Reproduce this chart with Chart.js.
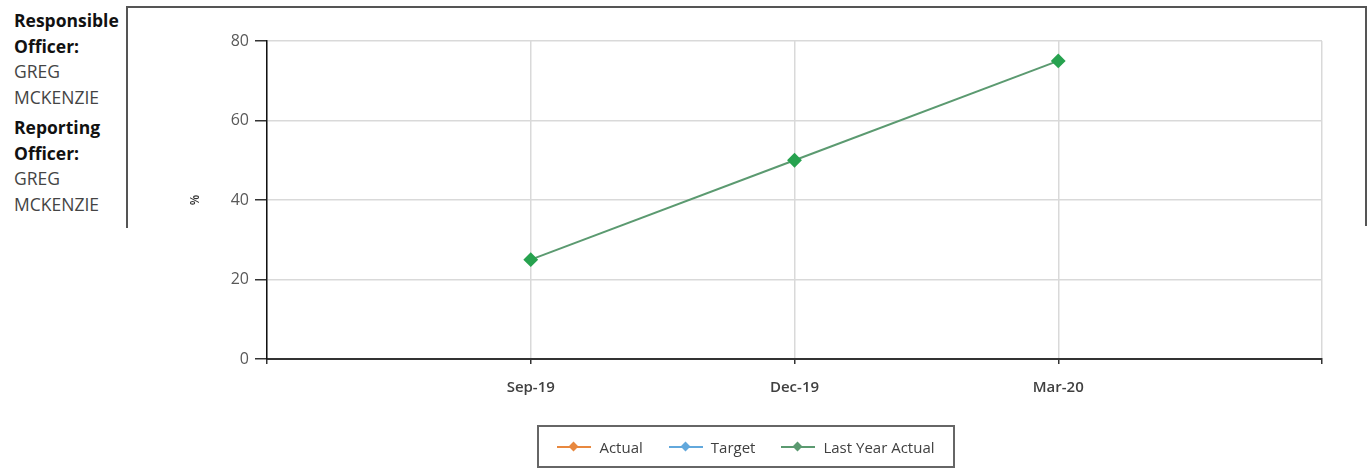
<!DOCTYPE html>
<html>
<head>
<meta charset="utf-8">
<script src="https://cdn.jsdelivr.net/npm/chart.js@4"></script>
<style>
    html, body { margin: 0; padding: 0; background: #fff; }
    body { width: 1367px; height: 472px; position: relative; overflow: hidden; font-family: "Open Sans", sans-serif; }
    #chart-wrap { position: absolute; left: 0; top: 0; width: 1367px; height: 472px; }
    .officers { position: absolute; left: 14px; top: 8px; font-size: 17.5px; line-height: 25.5px; color: #444; }
    .officers b { color: #111; }
    .officers .block + .block { margin-top: 5px; }
    .cell-line { position: absolute; background: #555; }
    .legend { position: absolute; left: 537px; top: 425px; width: 414px; height: 39px; border: 2px solid #666;
              display: flex; align-items: center; justify-content: center; gap: 26px; font-size: 15px; color: #404040; }
    .legend-item { display: flex; align-items: center; gap: 8px; }
    .legend-mark { position: relative; width: 34px; height: 2px; }
    .legend-mark::after { content: ''; position: absolute; left: 13px; top: -3px; width: 7px; height: 7px; background: inherit; transform: rotate(45deg); }
</style>
</head>
<body>
<div class="officers">
    <div class="block"><b>Responsible<br>Officer:</b><br>GREG<br>MCKENZIE</div>
    <div class="block"><b>Reporting<br>Officer:</b><br>GREG<br>MCKENZIE</div>
</div>
<div class="cell-line" style="left:126px; top:6px; width:2px; height:222px;"></div>
<div class="cell-line" style="left:126px; top:6px; width:1241px; height:2px;"></div>
<div class="cell-line" style="left:1365px; top:6px; width:2px; height:220px;"></div>

<div id="chart-wrap"><canvas id="kpi-chart" width="1367" height="472"></canvas></div>
<div class="legend" id="kpi-legend"></div>

<script>
// quarters shown on the x axis
const categories = ['Sep-19', 'Dec-19', 'Mar-20'];
// series values (%), null where nothing reported
const actualValues = [null, null, null];
const targetValues = [null, null, null];
const lastYearValues = [25, 50, 75];
const yTicks = [0, 20, 40, 60, 80];

const seriesNames = ['Actual', 'Target', 'Last Year Actual'];
const lineColors = ['#e8883f', '#62a8dc', '#5b9a70'];
const markColors = ['#ed7d31', '#5b9bd5', '#27a24f'];

// blank slots either side so the quarters sit on inner gridlines
const labels = [''].concat(categories, ['']);
const pad = values => [null].concat(values, [null]);

const datasets = [actualValues, targetValues, lastYearValues].map((values, i) => ({
    label: seriesNames[i],
    data: pad(values),
    borderColor: lineColors[i],
    backgroundColor: markColors[i],
    pointBackgroundColor: markColors[i],
    pointBorderColor: markColors[i],
    borderWidth: 2,
    pointStyle: 'rectRot',
    pointRadius: 6,
    spanGaps: false
}));

const ctx = document.getElementById('kpi-chart').getContext('2d');
new Chart(ctx, {
    type: 'line',
    data: { labels: labels, datasets: datasets },
    options: {
        responsive: false,
        animation: false,
        layout: { padding: { left: 188, right: 45, top: 41, bottom: 0 } },
        plugins: {
            legend: { display: false },
            tooltip: { enabled: false }
        },
        scales: {
            x: {
                type: 'category',
                offset: false,
                grid: { color: '#d9d9d9', lineWidth: 1.5, tickLength: 5, tickColor: '#333' },
                border: { color: '#333', width: 2 },
                ticks: {
                    padding: 15,
                    maxRotation: 0,
                    autoSkip: false,
                    color: '#404040',
                    font: { family: 'Open Sans', size: 15, weight: '600' }
                },
                afterFit: scale => { scale.height = 113; }
            },
            y: {
                min: 0,
                max: 80,
                afterBuildTicks: scale => { scale.ticks = yTicks.map(v => ({ value: v })); },
                grid: { color: '#d9d9d9', lineWidth: 1.5, tickLength: 12, tickColor: '#333' },
                border: { color: '#111', width: 1.5 },
                ticks: {
                    padding: 6,
                    color: '#595959',
                    font: { family: 'Open Sans', size: 16 }
                },
                title: {
                    display: true,
                    text: '%',
                    color: '#333',
                    padding: 0,
                    font: { family: 'Open Sans', size: 12, weight: '600' }
                },
                afterFit: scale => { scale.width = 79; }
            }
        }
    }
});

// legend strip under the chart
const legendEl = document.getElementById('kpi-legend');
seriesNames.forEach((name, i) => {
    const item = document.createElement('div');
    item.className = 'legend-item';
    const mark = document.createElement('span');
    mark.className = 'legend-mark';
    mark.style.background = lineColors[i];
    const text = document.createElement('span');
    text.textContent = name;
    item.appendChild(mark);
    item.appendChild(text);
    legendEl.appendChild(item);
});
</script>
</body>
</html>
